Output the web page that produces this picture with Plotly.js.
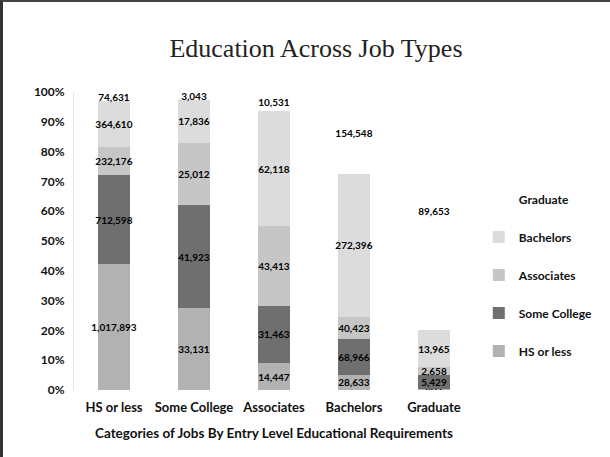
<!DOCTYPE html>
<html>
<head>
<meta charset="utf-8">
<script src="https://cdn.plot.ly/plotly-3.0.1.min.js"></script>
<style>
html,body{margin:0;padding:0;background:#fff;}
#chart{width:610px;height:457px;}
#frame{position:absolute;left:0;top:0;width:610px;height:457px;border-left:3px solid #333;border-top:2px solid #444;box-sizing:border-box;pointer-events:none;}
</style>
</head>
<body>
<div id="chart"></div>
<div id="frame"></div>
<script>
const categories = ["HS or less", "Some College", "Associates", "Bachelors", "Graduate"];
const seriesNames = ["HS or less", "Some College", "Associates", "Bachelors", "Graduate"];
const hsOrLess    = [1017893, 33131, 14447, 28633, 402];
const someCollege = [712598, 41923, 31463, 68966, 5429];
const associates  = [232176, 25012, 43413, 40423, 2658];
const bachelors   = [364610, 17836, 62118, 272396, 13965];
const graduate    = [74631, 3043, 10531, 154548, 89653];
const yTickVals   = [0,10,20,30,40,50,60,70,80,90,100];

const seriesValues = [hsOrLess, someCollege, associates, bachelors, graduate];
const colors = ["#b2b2b2", "#6f6f6f", "#c6c6c6", "#dcdcdc", "#ffffff"];
const fmt = v => v.toLocaleString('en-US');

const traces = seriesValues.map((vals, i) => ({
  type: 'bar',
  name: seriesNames[i],
  legendgroup: 'g' + i,
  legendrank: 10 - i,
  x: categories,
  y: vals,
  text: vals.map(fmt),
  textposition: 'inside',
  insidetextanchor: 'middle',
  textangle: 0,
  textfont: {family: 'Lato, sans-serif', size: 10, color: '#000', weight: 700},
  marker: {color: colors[i], line: {width: 0}},
  width: 0.39,
  hoverinfo: 'skip'
}));

const layout = {
  width: 610, height: 457,
  paper_bgcolor: '#fff', plot_bgcolor: '#fff',
  barmode: 'stack', barnorm: 'percent',
  margin: {l: 74, r: 100, t: 92, b: 67},
  showlegend: true,
  uniformtext: {mode: 'show', minsize: 10},
  title: {
    text: 'Education Across Job Types',
    font: {family: '"Liberation Serif", serif', size: 26, color: '#222'},
    x: 0.518, xref: 'container', xanchor: 'center',
    y: 0.895, yref: 'container', yanchor: 'middle'
  },
  xaxis: {
    tickfont: {family: 'Lato, sans-serif', size: 13, color: '#111', weight: 700},
    title: {text: 'Categories of Jobs By Entry Level Educational Requirements',
            font: {family: 'Lato, sans-serif', size: 13.5, color: '#111', weight: 700}, standoff: 14},
    showline: false, ticks: '', showgrid: false, ticklabelstandoff: 8
  },
  yaxis: {
    range: [0, 100], tickvals: yTickVals, ticktext: yTickVals.map(v => v + '%'),
    tickfont: {family: 'Lato, sans-serif', size: 12, color: '#111', weight: 700},
    showgrid: false, zeroline: false, showline: true, linecolor: '#e4e4e4', linewidth: 1,
    ticks: '', ticklabelstandoff: 6
  },
  legend: {
    x: 1.012, xanchor: 'left', y: 0.69, yanchor: 'top',
    traceorder: 'grouped', tracegroupgap: 19,
    font: {family: 'Lato, sans-serif', size: 12, color: '#111', weight: 700},
    itemwidth: 30, bgcolor: 'rgba(0,0,0,0)'
  }
};

Plotly.newPlot('chart', traces, layout, {displayModeBar: false, staticPlot: true});
</script>
</body>
</html>
